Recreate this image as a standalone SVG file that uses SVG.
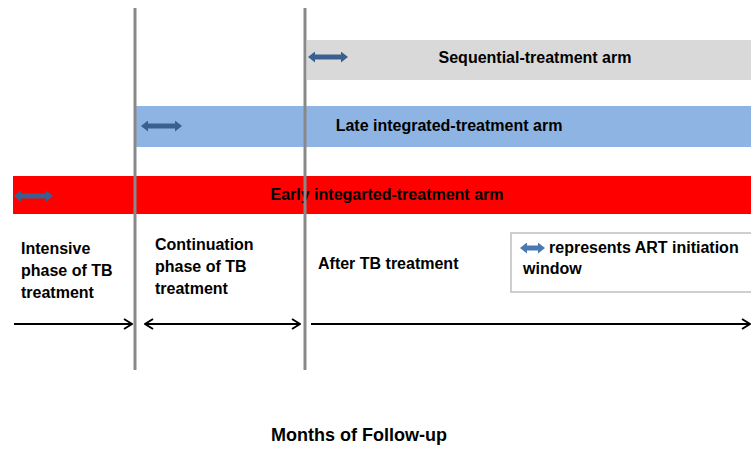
<svg xmlns="http://www.w3.org/2000/svg" width="751" height="451" viewBox="0 0 751 451">
<defs>
<style>
text{font-family:"Liberation Sans",Arial,sans-serif;font-weight:bold;font-size:16px;fill:#000}
.vline{stroke:#898989;stroke-width:3}
.axis{stroke:#000;stroke-width:2;fill:none}
.win{stroke:#3a6090;stroke-width:5;fill:none}
</style>
<marker id="open" viewBox="0 0 10 12" refX="9" refY="6" markerWidth="10" markerHeight="12" markerUnits="userSpaceOnUse" orient="auto-start-reverse">
<path d="M1,1 L9,6 L1,11" fill="none" stroke="#000" stroke-width="2"/>
</marker>
<marker id="wh" viewBox="0 0 7 11" refX="3" refY="5.5" markerWidth="7" markerHeight="11" markerUnits="userSpaceOnUse" orient="auto-start-reverse">
<path d="M0,0 L7,5.5 L0,11 Z" fill="#3a6090"/>
</marker>
<marker id="whl" viewBox="0 0 7 11" refX="3" refY="5.5" markerWidth="7" markerHeight="11" markerUnits="userSpaceOnUse" orient="auto-start-reverse">
<path d="M0,0 L7,5.5 L0,11 Z" fill="#4a78b0"/>
</marker>
</defs>
<rect width="751" height="451" fill="#fff"/>
<g id="seq-arm">
<rect x="307" y="40" width="444" height="40" fill="#d9d9d9"/>
<text x="535" y="63" text-anchor="middle">Sequential-treatment arm</text>
</g>
<g id="late-arm">
<rect x="136" y="106" width="615" height="41" fill="#8eb4e3"/>
<text x="449" y="131" text-anchor="middle">Late integrated-treatment arm</text>
</g>
<g id="early-arm">
<rect x="13" y="176" width="738" height="38" fill="#ff0000"/>
<text x="387" y="200" text-anchor="middle">Early integarted-treatment arm</text>
</g>
<g id="phase-intensive">
<text x="21" y="254">Intensive</text>
<text x="21" y="276">phase of TB</text>
<text x="21" y="298">treatment</text>
</g>
<g id="phase-continuation">
<text x="155" y="250">Continuation</text>
<text x="155" y="272">phase of TB</text>
<text x="155" y="294">treatment</text>
</g>
<g id="phase-after">
<text x="318" y="269">After TB treatment</text>
</g>
<g id="legend">
<rect x="511" y="233" width="245" height="59" fill="#fff" stroke="#bfbfbf" stroke-width="1.5"/>
<line class="win" x1="524" y1="248" x2="541" y2="248" style="stroke:#4a78b0" marker-start="url(#whl)" marker-end="url(#whl)"/>
<text x="549" y="253">represents ART initiation</text>
<text x="523" y="274">window</text>
</g>
<g id="x-label">
<text x="359" y="441" text-anchor="middle" style="font-size:18px">Months of Follow-up</text>
</g>
<g id="connectors">
<line class="vline" x1="135" y1="8" x2="135" y2="370"/>
<line class="vline" x1="305" y1="8" x2="305" y2="370"/>
<line class="win" x1="312" y1="57" x2="344" y2="57" marker-start="url(#wh)" marker-end="url(#wh)"/>
<line class="win" x1="145" y1="126" x2="178" y2="126" marker-start="url(#wh)" marker-end="url(#wh)"/>
<line class="win" x1="18" y1="196" x2="49" y2="196" marker-start="url(#wh)" marker-end="url(#wh)"/>
<line class="axis" x1="14" y1="324" x2="132" y2="324" marker-end="url(#open)"/>
<line class="axis" x1="145" y1="324" x2="300" y2="324" marker-start="url(#open)" marker-end="url(#open)"/>
<line class="axis" x1="311" y1="324" x2="750" y2="324" marker-end="url(#open)"/>
</g>
</svg>
